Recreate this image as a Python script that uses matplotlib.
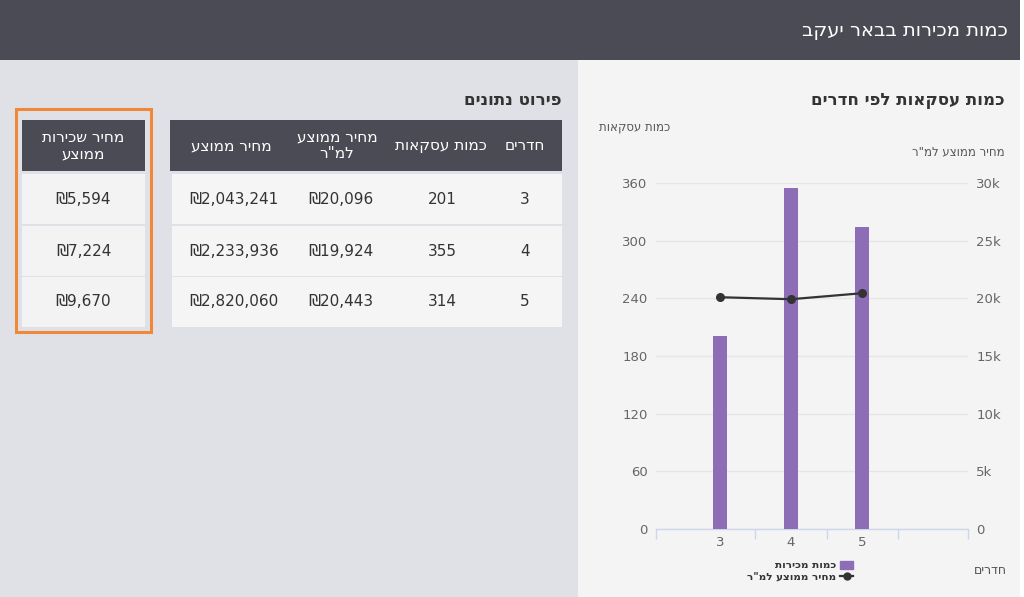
import matplotlib
matplotlib.use("Agg")
import matplotlib.pyplot as plt
from matplotlib.patches import Rectangle
from matplotlib.lines import Line2D
import numpy as np

plt.rcParams['font.family'] = ['DejaVu Sans']

# ---------------- data ----------------
rooms = ['3', '4', '5']
deals = [201, 355, 314]
price_sqm = [20096, 19924, 20443]
avg_price = [2043241, 2233936, 2820060]
avg_rent = [5594, 7224, 9670]

left_ticks = [0, 60, 120, 180, 240, 300, 360]
right_ticks = [0, 5000, 10000, 15000, 20000, 25000, 30000]
right_tick_labels = ['0', '5k', '10k', '15k', '20k', '25k', '30k']

page_title = "כמות מכירות בבאר יעקב"
chart_title = "כמות עסקאות לפי חדרים"
table_title = "פירוט נתונים"
y_left_title = "כמות עסקאות"
y_right_title = 'מחיר ממוצע למ"ר'
x_title = "חדרים"
legend_bar = "כמות מכירות"
legend_line = 'מחיר ממוצע למ"ר'
table_headers = ["חדרים", "כמות עסקאות", 'מחיר ממוצע\nלמ"ר', "מחיר ממוצע"]
rent_header = "מחיר שכירות\nממוצע"


def heb(s):
    return "\n".join(line[::-1] for line in s.split("\n"))


def shekel(v):
    return "₪{:,}".format(v)


# ---------------- figure ----------------
W, H = 1024, 597
fig = plt.figure(figsize=(W / 100, H / 100), dpi=100)
fig.patch.set_facecolor('white')

bg = fig.add_axes([0, 0, 1, 1], zorder=0)
bg.set_xlim(0, W)
bg.set_ylim(H, 0)
bg.axis('off')

DARK = '#4b4b55'
# header bar
bg.add_patch(Rectangle((0, 0), 1020, 60, color=DARK, lw=0))
bg.text(1008, 30, heb(page_title), color='white', fontsize=14, ha='right', va='center')
# panels
bg.add_patch(Rectangle((0, 60), 578, H - 60, color='#dfe1e6', lw=0))
bg.add_patch(Rectangle((578, 60), 442, H - 60, color='#f4f4f4', lw=0))

# chart texts
bg.text(1005, 100, heb(chart_title), color='#333333', fontsize=12, fontweight='bold',
        ha='right', va='center')
bg.text(670, 127, heb(y_left_title), color='#555555', fontsize=8.5, ha='right', va='center')
bg.text(1005, 152, heb(y_right_title), color='#555555', fontsize=8.5, ha='right', va='center')
bg.text(1007, 571, heb(x_title), color='#555555', fontsize=9, ha='right', va='center')

# table title
bg.text(561, 100, heb(table_title), color='#333333', fontsize=12, fontweight='bold',
        ha='right', va='center')

# main table
col_centers = [525, 441, 337, 231]
header_top, header_bot = 120, 171
row_tops = [174, 226, 277]
row_h = 50
bg.add_patch(Rectangle((170, header_top), 392, header_bot - header_top, color=DARK, lw=0))
for c, h in zip(col_centers, table_headers):
    bg.text(c, (header_top + header_bot) / 2, heb(h), color='white', fontsize=11,
            ha='center', va='center', multialignment='center', linespacing=1.1)
data_centers = [525, 442, 341, 234]
for i in range(len(rooms)):
    y0 = row_tops[i]
    bg.add_patch(Rectangle((172, y0), 390, row_h, color='#f5f5f5', lw=0))
    yc = y0 + row_h / 2
    vals = [rooms[i], str(deals[i]), shekel(price_sqm[i]), shekel(avg_price[i])]
    for c, v in zip(data_centers, vals):
        bg.text(c, yc, v, color='#333333', fontsize=11, ha='center', va='center')

# rent table
bg.add_patch(Rectangle((22, header_top), 123, header_bot - header_top, color=DARK, lw=0))
bg.text(83.5, (header_top + header_bot) / 2, heb(rent_header), color='white', fontsize=11,
        ha='center', va='center', multialignment='center', linespacing=1.1)
for i in range(len(avg_rent)):
    y0 = row_tops[i]
    bg.add_patch(Rectangle((22, y0), 123, row_h, color='#f3f3f3', lw=0))
    bg.text(83.5, y0 + row_h / 2, shekel(avg_rent[i]), color='#333333', fontsize=11,
            ha='center', va='center')
bg.add_patch(Rectangle((15.5, 108.5), 135, 223, fill=False, ec='#f0883a', lw=2.2))

# ---------------- chart ----------------
ax_l, ax_r, ax_t, ax_b = 656, 968, 183, 529
ax = fig.add_axes([ax_l / W, 1 - ax_b / H, (ax_r - ax_l) / W, (ax_b - ax_t) / H], zorder=2)
ax.set_facecolor('none')
x = np.arange(len(rooms))
ax.bar(x, deals, width=0.2, color='#8e6db7', zorder=3)
ax.set_ylim(0, 360)
ax.set_xlim(-0.9, 3.49)
ax.set_yticks(left_ticks)
ax.set_yticklabels([str(t) for t in left_ticks])
ax.set_xticks(x)
ax.set_xticklabels(rooms)
ax.set_xticks([-0.9, 0.5, 1.5, 2.5, 3.49], minor=True)
ax.tick_params(axis='x', which='major', length=0, pad=5, labelsize=9.5, labelcolor='#666666')
ax.tick_params(axis='x', which='minor', length=7, width=1, color='#ccd6eb', direction='out')
ax.tick_params(axis='y', length=0, pad=6, labelsize=9.5, labelcolor='#666666')
ax.grid(axis='y', color='#e6e6e6', lw=1, zorder=0)
ax.set_axisbelow(True)
for s in ['left', 'right', 'top']:
    ax.spines[s].set_visible(False)
ax.spines['bottom'].set_color('#ccd6eb')
ax.spines['bottom'].set_linewidth(1)

ax2 = ax.twinx()
ax2.set_zorder(3)
ax2.set_facecolor('none')
ax2.plot(x, price_sqm, color='#333333', lw=1.6, marker='o', markersize=5.5,
         markerfacecolor='#333333', zorder=4)
ax2.set_ylim(0, 30000)
ax2.set_yticks(right_ticks)
ax2.set_yticklabels(right_tick_labels)
ax2.tick_params(axis='y', length=0, pad=6, labelsize=9.5, labelcolor='#666666')
for s in ['left', 'right', 'top', 'bottom']:
    ax2.spines[s].set_visible(False)

# legend
handles = [Rectangle((0, 0), 1, 1, color='#8e6db7'),
           Line2D([0], [0], color='#333333', lw=1.6, marker='o', markersize=5)]
leg = fig.legend(handles, [heb(legend_bar), heb(legend_line)], loc='center',
                 bbox_to_anchor=(800 / W, 1 - 571 / H), frameon=False, markerfirst=False,
                 prop={'size': 7.5, 'weight': 'bold'}, handlelength=1.2, handleheight=0.9,
                 handletextpad=0.4, labelspacing=0.1, borderpad=0)
for t in leg.get_texts():
    t.set_color('#333333')

fig.savefig('out.png', dpi=100, facecolor=fig.get_facecolor())
